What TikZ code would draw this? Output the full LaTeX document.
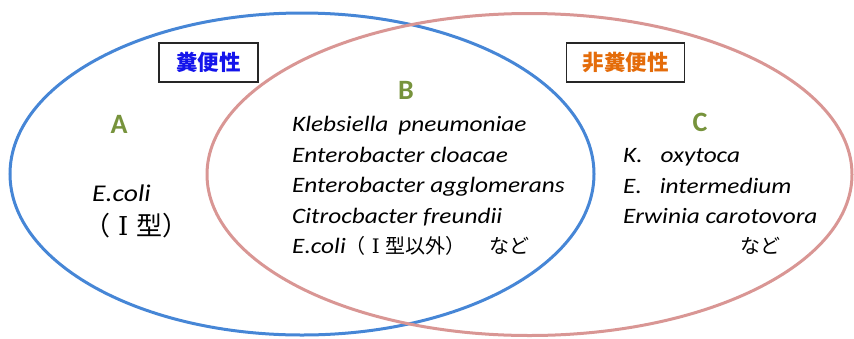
\documentclass[tikz,border=0pt]{standalone}
\usepackage{fontspec}
\setmainfont{Carlito}[FakeStretch=1.15]
\newfontfamily\labfont{Carlito}
\newfontfamily\cjk{Noto Sans CJK JP}
\newfontfamily\romfont{DejaVu Serif}
\newcommand{\romI}{{\romfont\char"2160}}
\definecolor{bluel}{RGB}{70,134,214}
\definecolor{pinkl}{RGB}{217,150,148}
\definecolor{greenl}{RGB}{119,147,60}
\definecolor{orangel}{RGB}{228,108,10}
\definecolor{tagblue}{RGB}{20,20,235}
\begin{document}
\begin{tikzpicture}[x=1pt,y=-1pt,
  lab/.style={font=\labfont\fontsize{28}{30}\selectfont\bfseries, text=greenl, inner sep=0pt, anchor=base},
  sp/.style={font=\fontsize{22}{24}\selectfont\itshape, text=black, inner sep=0pt, anchor=base west},
  jp/.style={font=\cjk\fontsize{20}{22}\selectfont, text=black, inner sep=0pt, anchor=base west},
  tag/.style={draw=black!85, fill=white, line width=1.2pt, minimum height=39pt, inner sep=0pt,
              font=\cjk\fontsize{21.5}{22}\selectfont\bfseries}]
\useasboundingbox (0,0) rectangle (854,338);
\draw[bluel, line width=3pt] (302,174) ellipse [x radius=292pt, y radius=161pt];
\draw[pinkl, line width=3pt] (529.5,174.5) ellipse [x radius=322.5pt, y radius=161pt];

\node[tag, minimum width=99pt, text=tagblue] (tagA) at (208.5,62.5) {糞便性};
\node[tag, minimum width=118pt, text=orangel] (tagC) at (625.5,62.5) {非糞便性};

\node[lab] (labA) at (119,133) {A};
\node[lab] (labB) at (406,99.5) {B};
\node[lab] (labC) at (700,131.5) {C};

% A
\node[sp, font=\fontsize{24}{26}\selectfont\itshape] (a1) at (92,201) {E.coli};
\node[jp, font=\cjk\fontsize{26}{28}\selectfont] (a2) at (84,235) {（\makebox[26pt]{\romI}型）};

% B
\node[sp] (b1) at (292,131.5) {Klebsiella\hspace{10pt}pneumoniae};
\node[sp] (b2) at (292,162) {Enterobacter cloacae};
\node[sp] (b3) at (292,192.5) {Enterobacter agglomerans};
\node[sp] (b4) at (292,223) {Citrocbacter freundii};
\node[sp] (b5) at (292,253.5) {E.coli{\cjk\fontsize{20}{22}\selectfont\upshape （\makebox[20pt]{\romI}型以外）}};
\node[jp] (b6) at (489,253.5) {など};

% C
\node[sp] (c1) at (623,162.5) {K.\hspace{18pt}oxytoca};
\node[sp] (c2) at (623,193) {E.\hspace{18pt}intermedium};
\node[sp] (c3) at (623,223.5) {Erwinia carotovora};
\node[jp] (c4) at (740,253.5) {など};
\end{tikzpicture}
\end{document}
